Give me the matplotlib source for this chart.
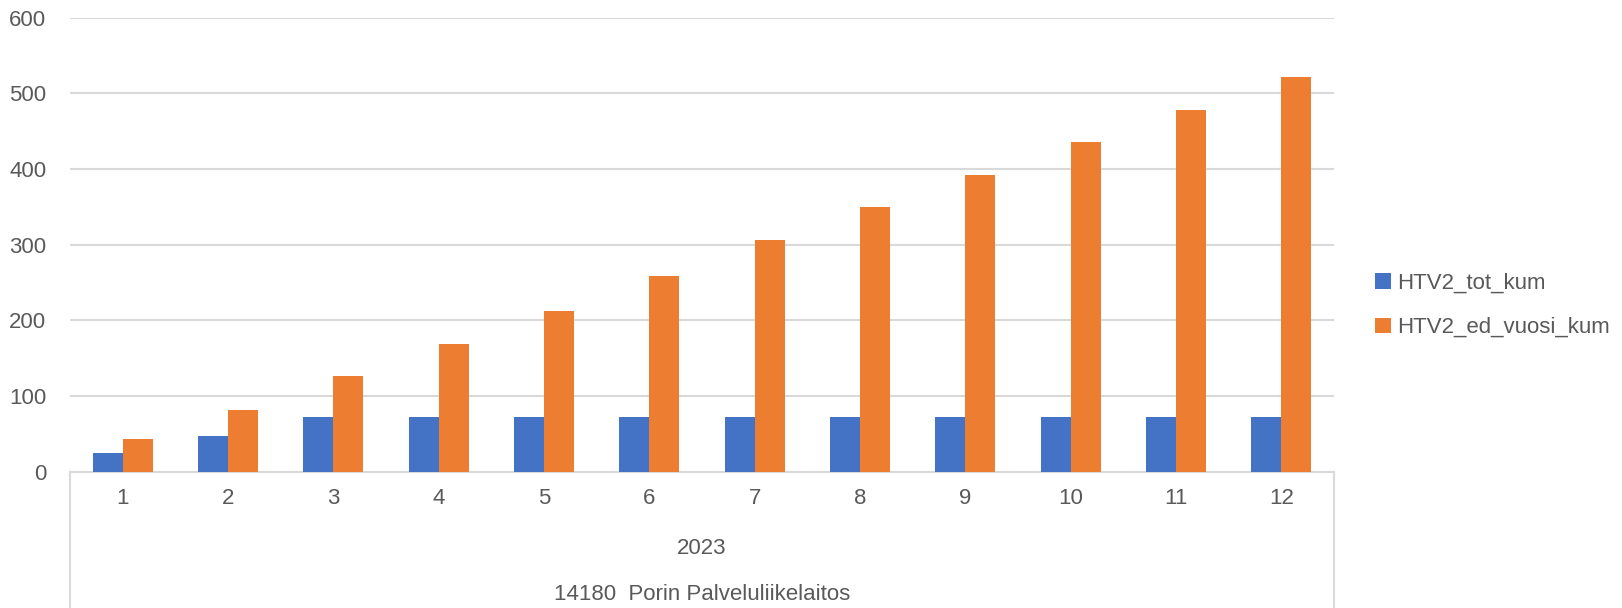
import matplotlib.pyplot as plt
import numpy as np
from matplotlib.lines import Line2D

# values
months = ['1', '2', '3', '4', '5', '6', '7', '8', '9', '10', '11', '12']
htv2_tot_kum = [25, 47, 72, 72, 72, 72, 72, 72, 72, 72, 72, 72]
htv2_ed_vuosi_kum = [43, 82, 126, 168, 212, 259, 306, 350, 392, 436, 478, 522]
series_names = ['HTV2_tot_kum', 'HTV2_ed_vuosi_kum']
year_label = '2023'
org_label = '14180  Porin Palveluliikelaitos'
yticks = [0, 100, 200, 300, 400, 500, 600]

plt.rcParams['font.family'] = ['Liberation Sans', 'DejaVu Sans']

txt = '#595959'
grid = '#d9d9d9'
blue = '#4472C4'
orange = '#ED7D31'
fs = 16

W, H = 1622, 608
fig = plt.figure(figsize=(W / 100, H / 100), dpi=100)
ax_l, ax_r, ax_b, ax_t = 70 / W, 1334 / W, (H - 471.6) / H, (H - 17.6) / H
ax = fig.add_axes([ax_l, ax_b, ax_r - ax_l, ax_t - ax_b])

x = np.arange(len(months))
w = 0.285
ax.bar(x - w / 2, htv2_tot_kum, width=w, color=blue, label=series_names[0], zorder=3)
ax.bar(x + w / 2, htv2_ed_vuosi_kum, width=w, color=orange, label=series_names[1], zorder=3)

ax.set_xlim(-0.5, len(months) - 0.5)
ax.set_ylim(0, 600)
ax.set_yticks(yticks)
ax.yaxis.grid(True, color=grid, linewidth=1.5, zorder=0)
ax.tick_params(axis='y', length=0, pad=17, labelsize=fs, labelcolor=txt)
ax.set_xticks(x)
ax.set_xticklabels(months)
ax.tick_params(axis='x', length=0, pad=12, labelsize=fs, labelcolor=txt)

for s in ['top', 'right', 'left']:
    ax.spines[s].set_visible(False)
ax.spines['bottom'].set_color(grid)
ax.spines['bottom'].set_linewidth(1.5)

# hierarchical category axis (Excel style)
for xf in (ax_l, ax_r):
    fig.add_artist(Line2D([xf, xf], [0, ax_b], color=grid, linewidth=1.5,
                          transform=fig.transFigure))
xc = (ax_l + ax_r) / 2
fig.text(xc, (H - 549) / H, year_label, ha='center', va='center', fontsize=fs, color=txt)
fig.text(xc, (H - 595) / H, org_label, ha='center', va='center', fontsize=fs, color=txt)

leg = fig.legend(loc='center left', bbox_to_anchor=(1375 / W, (H - 305.5) / H),
                 frameon=False, fontsize=fs, handlelength=0.7, handleheight=0.7,
                 handletextpad=0.3, labelspacing=1.05, labelcolor=txt,
                 borderpad=0, borderaxespad=0)

plt.savefig('out.png', dpi=100)
